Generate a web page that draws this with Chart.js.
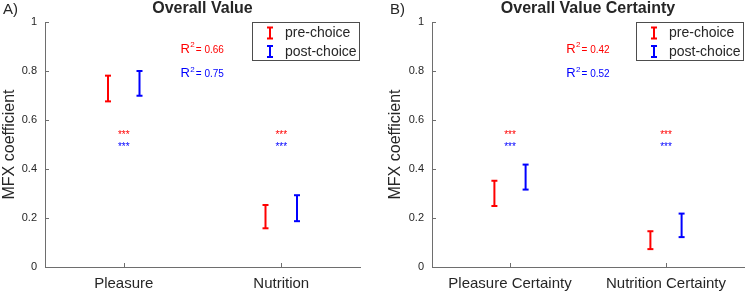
<!DOCTYPE html>
<html>
<head>
<meta charset="utf-8">
<script src="https://cdn.jsdelivr.net/npm/chart.js@4.4.1/dist/chart.umd.min.js"></script>
<style>
  html, body { margin: 0; padding: 0; background: #fff; }
  #wrap { position: relative; width: 749px; height: 294px; }
  .panel { position: absolute; top: 0; height: 294px; }
  #panelA { left: 0; width: 375px; }
  #panelB { left: 375px; width: 374px; }
</style>
</head>
<body>
<div id="wrap">
  <div class="panel" id="panelA"><canvas id="chartA"></canvas></div>
  <div class="panel" id="panelB"><canvas id="chartB"></canvas></div>
</div>
<script>
// Panel A - Overall Value
const categoriesA = ['Pleasure', 'Nutrition'];
const preLowA = [0.676, 0.158];
const preHighA = [0.781, 0.253];
const postLowA = [0.699, 0.187];
const postHighA = [0.800, 0.293];
const r2A = ['0.66', '0.75'];

// Panel B - Overall Value Certainty
const categoriesB = ['Pleasure Certainty', 'Nutrition Certainty'];
const preLowB = [0.249, 0.073];
const preHighB = [0.352, 0.146];
const postLowB = [0.316, 0.122];
const postHighB = [0.418, 0.218];
const r2B = ['0.42', '0.52'];

const sigLabels = ['***', '***'];
const yTicks = [0, 0.2, 0.4, 0.6, 0.8, 1];
const seriesNames = ['pre-choice', 'post-choice'];

const RED = '#ff0000';
const BLUE = '#0000ff';
const AXIS = '#6e6e6e';
const TEXT = '#262626';
const FONT = '"Liberation Sans", Arial, sans-serif';

function errorBarDatasets(lows, highs, offset, color) {
    return lows.map((low, i) => ({
        data: [{ x: i + 1 + offset, y: low }, { x: i + 1 + offset, y: highs[i] }],
        showLine: true,
        borderColor: color,
        borderWidth: 2,
        pointStyle: 'line',
        pointRadius: 3,
        pointBorderWidth: 2,
        pointBorderColor: color,
        pointHoverRadius: 3
    }));
}

// draws titles, annotations, inward ticks and the legend box
const decorPlugin = {
    id: 'decor',
    afterDraw(chart) {
        const o = chart.options.plugins.decor;
        const ctx = chart.ctx;
        const area = chart.chartArea;
        const xs = chart.scales.x;
        const ys = chart.scales.y;
        ctx.save();

        // inward tick marks
        ctx.strokeStyle = AXIS;
        ctx.lineWidth = 1;
        ctx.beginPath();
        yTicks.forEach(v => {
            const py = Math.round(ys.getPixelForValue(v)) + 0.5;
            ctx.moveTo(area.left, py);
            ctx.lineTo(area.left + 4, py);
        });
        [1, 2].forEach(v => {
            const px = Math.round(xs.getPixelForValue(v)) + 0.5;
            ctx.moveTo(px, area.bottom);
            ctx.lineTo(px, area.bottom - 4);
        });
        ctx.stroke();

        // panel letter and title
        ctx.fillStyle = TEXT;
        ctx.textBaseline = 'middle';
        ctx.textAlign = 'left';
        ctx.font = '15px ' + FONT;
        ctx.fillText(o.letter, o.letterX, 10);
        ctx.textAlign = 'center';
        ctx.font = 'bold 16px ' + FONT;
        ctx.fillText(o.title, (area.left + area.right) / 2, 9);

        // y axis label
        ctx.save();
        ctx.translate(o.yLabelX, (area.top + area.bottom) / 2);
        ctx.rotate(-Math.PI / 2);
        ctx.font = '16px ' + FONT;
        ctx.fillText('MFX coefficient', 0, 0);
        ctx.restore();

        // R squared
        const r2Colors = [RED, BLUE];
        const r2Y = [0.89, 0.79];
        o.r2.forEach((val, k) => {
            const px = xs.getPixelForValue(1.36);
            const py = ys.getPixelForValue(r2Y[k]);
            ctx.fillStyle = r2Colors[k];
            ctx.textAlign = 'left';
            ctx.font = '13px ' + FONT;
            ctx.fillText('R', px, py);
            const rw = ctx.measureText('R').width;
            ctx.font = '8px ' + FONT;
            ctx.fillText('2', px + rw + 0.5, py - 4);
            ctx.font = '10px ' + FONT;
            ctx.fillText('= ' + val, px + rw + 6, py + 1);
        });

        // significance stars
        const sigY = [0.552, 0.50];
        sigLabels.forEach((s, i) => {
            [RED, BLUE].forEach((c, k) => {
                ctx.fillStyle = c;
                ctx.textAlign = 'center';
                ctx.font = '10px ' + FONT;
                ctx.fillText(s, xs.getPixelForValue(i + 1), ys.getPixelForValue(sigY[k]) + 3);
            });
        });

        // legend
        const bw = 108, bh = 39;
        const bx = area.right - bw, by = area.top;
        ctx.fillStyle = '#fff';
        ctx.fillRect(bx, by, bw, bh);
        ctx.strokeStyle = '#4d4d4d';
        ctx.lineWidth = 1;
        ctx.strokeRect(bx + 0.5, by + 0.5, bw - 1, bh - 1);
        [RED, BLUE].forEach((c, k) => {
            const cy = by + 11 + k * 18.5;
            const ix = bx + 18;
            ctx.strokeStyle = c;
            ctx.lineWidth = 2;
            ctx.beginPath();
            ctx.moveTo(ix, cy - 5.5); ctx.lineTo(ix, cy + 5.5);
            ctx.moveTo(ix - 3, cy - 5.5); ctx.lineTo(ix + 3, cy - 5.5);
            ctx.moveTo(ix - 3, cy + 5.5); ctx.lineTo(ix + 3, cy + 5.5);
            ctx.stroke();
            ctx.fillStyle = TEXT;
            ctx.textAlign = 'left';
            ctx.font = '14px ' + FONT;
            ctx.fillText(seriesNames[k], bx + 33, cy + 0.5);
        });
        ctx.restore();
    }
};

function createPanel(canvasId, cats, preLow, preHigh, postLow, postHigh, cfg) {
    const ctx = document.getElementById(canvasId).getContext('2d');
    return new Chart(ctx, {
        type: 'scatter',
        data: {
            datasets: [
                ...errorBarDatasets(preLow, preHigh, -0.1, RED),
                ...errorBarDatasets(postLow, postHigh, 0.1, BLUE)
            ]
        },
        options: {
            responsive: true,
            maintainAspectRatio: false,
            animation: false,
            events: [],
            layout: { padding: { top: 22, right: cfg.padRight, left: 0, bottom: 0 } },
            plugins: {
                legend: { display: false },
                tooltip: { enabled: false },
                decor: cfg
            },
            scales: {
                x: {
                    type: 'linear',
                    min: 0.5,
                    max: 2.5,
                    afterBuildTicks: s => { s.ticks = [{ value: 1 }, { value: 2 }]; },
                    afterFit: s => { s.height = 27; },
                    grid: { drawOnChartArea: false, drawTicks: false },
                    border: { display: true, color: AXIS, width: 1 },
                    ticks: {
                        autoSkip: false,
                        maxRotation: 0,
                        padding: 8,
                        color: TEXT,
                        font: { family: FONT, size: 15 },
                        callback: v => cats[v - 1]
                    }
                },
                y: {
                    min: 0,
                    max: 1,
                    afterBuildTicks: s => { s.ticks = yTicks.map(v => ({ value: v })); },
                    afterFit: s => { s.width = cfg.axisLeft; },
                    grid: { drawOnChartArea: false, drawTicks: false },
                    border: { display: true, color: AXIS, width: 1 },
                    ticks: {
                        padding: 8,
                        color: TEXT,
                        font: { family: FONT, size: 11 },
                        callback: v => (v === 0 || v === 1) ? String(v) : v.toFixed(1)
                    }
                }
            }
        },
        plugins: [decorPlugin]
    });
}

createPanel('chartA', categoriesA, preLowA, preHighA, postLowA, postHighA,
    { letter: 'A)', letterX: 3, title: 'Overall Value', yLabelX: 10, r2: r2A, axisLeft: 45, padRight: 15 });
createPanel('chartB', categoriesB, preLowB, preHighB, postLowB, postHighB,
    { letter: 'B)', letterX: 15, title: 'Overall Value Certainty', yLabelX: 21, r2: r2B, axisLeft: 57, padRight: 2 });
</script>
</body>
</html>
